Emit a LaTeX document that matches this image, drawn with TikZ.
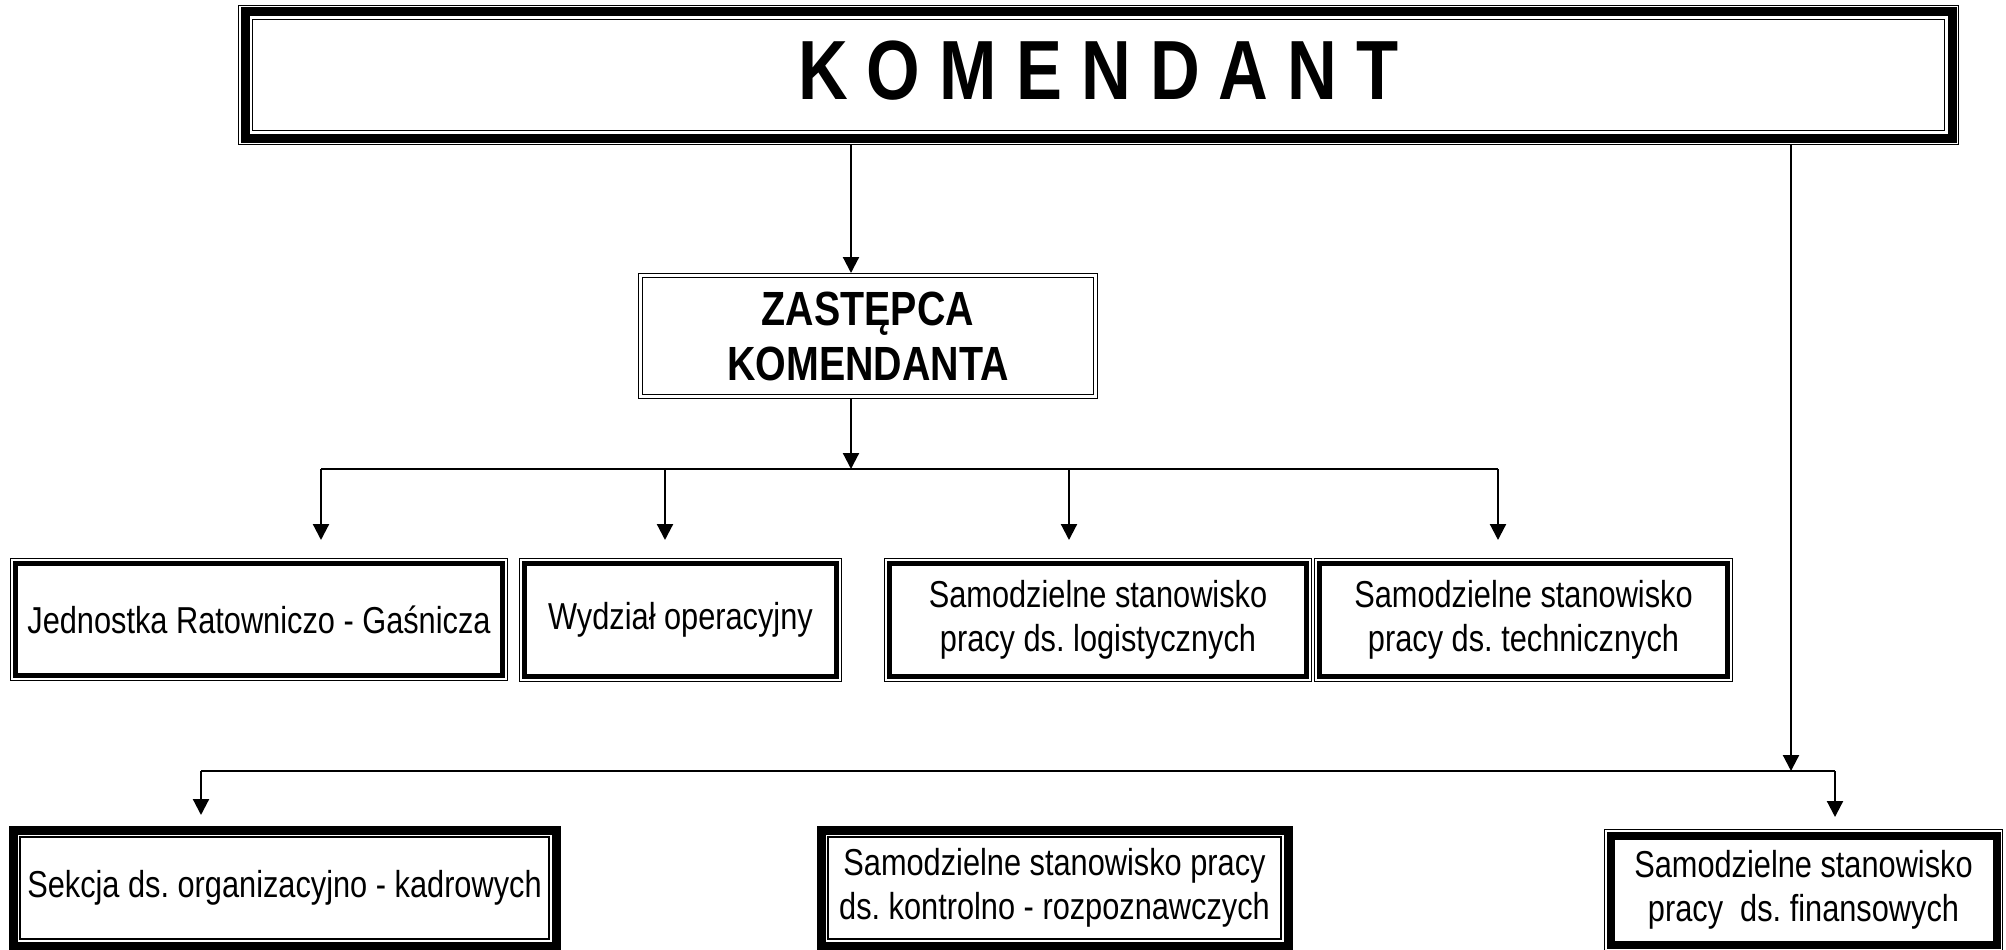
\documentclass[tikz,border=0pt]{standalone}
\usepackage{fontspec}
\setmainfont[FakeStretch=0.82]{Liberation Sans}
\usetikzlibrary{arrows.meta}
\frenchspacing
\newcommand\lblfont{\fontsize{37.5}{43.5}\selectfont}
\newcommand\frm[3]{\draw[line width=#3] ([xshift=#2,yshift=#2]#1.south west) rectangle ([xshift=-#2,yshift=-#2]#1.north east);}
\newcommand\thinthick[1]{\frm{#1}{0.7pt}{1.4pt}\frm{#1}{5.5pt}{5pt}}
\newcommand\thickthin[1]{\frm{#1}{5pt}{9pt}\frm{#1}{12pt}{1.5pt}}
\begin{document}
\begin{tikzpicture}[x=1pt,y=-1pt,
  box/.style={inner sep=0pt,outer sep=0pt,align=center,font=\lblfont},
  conn/.style={line width=2.2pt},
  arr/.style={line width=2.2pt,-{Triangle[width=16pt,length=16pt]}}]
\useasboundingbox (0,0) rectangle (2006,950);
\fill[white] (0,0) rectangle (2006,950);
% boxes
\node[box, minimum width=1721pt, minimum height=140pt, text depth=10pt,
  font=\fontsize{84}{96}\selectfont\bfseries] (kom) at (1098.5,75) {K O M E N D A N T};
\node[box, minimum width=460pt, minimum height=126pt,
  font=\fontsize{48}{55}\selectfont\bfseries] (zas) at (868,336) {ZASTĘPCA\\KOMENDANTA};
\node[box, minimum width=498pt, minimum height=123pt] (jed) at (259,619.5) {Jednostka Ratowniczo - Gaśnicza};
\node[box, minimum width=323pt, minimum height=124pt] (wyd) at (680.5,620) {Wydział operacyjny};
\node[box, minimum width=428pt, minimum height=124pt] (log) at (1098,620) {Samodzielne stanowisko\\pracy ds. logistycznych};
\node[box, minimum width=419pt, minimum height=124pt] (tec) at (1523.5,620) {Samodzielne stanowisko\\pracy ds. technicznych};
\node[box, minimum width=553pt, minimum height=126pt] (sek) at (284.5,888) {Sekcja ds. organizacyjno - kadrowych};
\node[box, minimum width=477pt, minimum height=126pt] (kon) at (1054.5,888) {Samodzielne stanowisko pracy\\ds. kontrolno - rozpoznawczych};
\node[box, minimum width=399pt, minimum height=122pt] (fin) at (1803.5,890) {Samodzielne stanowisko\\pracy\ \ ds. finansowych};
% frames
\frm{kom}{0.7pt}{1.4pt}\frm{kom}{7pt}{9pt}\frm{kom}{14.5pt}{1.6pt}
\frm{zas}{0.7pt}{1.4pt}\frm{zas}{4.5pt}{1.4pt}
\thinthick{jed}\thinthick{wyd}\thinthick{log}\thinthick{tec}
\thickthin{sek}\thickthin{kon}
\frm{fin}{0.7pt}{1.4pt}\frm{fin}{6.5pt}{8pt}
% connector coordinates
\coordinate (j1) at (851,469);
\coordinate (t1) at (321,540);
\coordinate (t2) at (665,540);
\coordinate (t3) at (1069,540);
\coordinate (t4) at (1498,540);
\coordinate (j2) at (1791,771);
\coordinate (b1) at (201,815);
\coordinate (b3) at (1835,817);
% connectors
\draw[arr] (kom.south -| j1) -- (zas.north -| j1);
\draw[arr] (zas.south -| j1) -- (j1);
\draw[conn] (t1 |- j1) -- (t4 |- j1);
\draw[arr] (t1 |- j1) -- (t1);
\draw[arr] (t2 |- j1) -- (t2);
\draw[arr] (t3 |- j1) -- (t3);
\draw[arr] (t4 |- j1) -- (t4);
\draw[arr] (kom.south -| j2) -- (j2);
\draw[conn] (b1 |- j2) -- (b3 |- j2);
\draw[arr] (b1 |- j2) -- (b1);
\draw[arr] (b3 |- j2) -- (b3);
\end{tikzpicture}
\end{document}
